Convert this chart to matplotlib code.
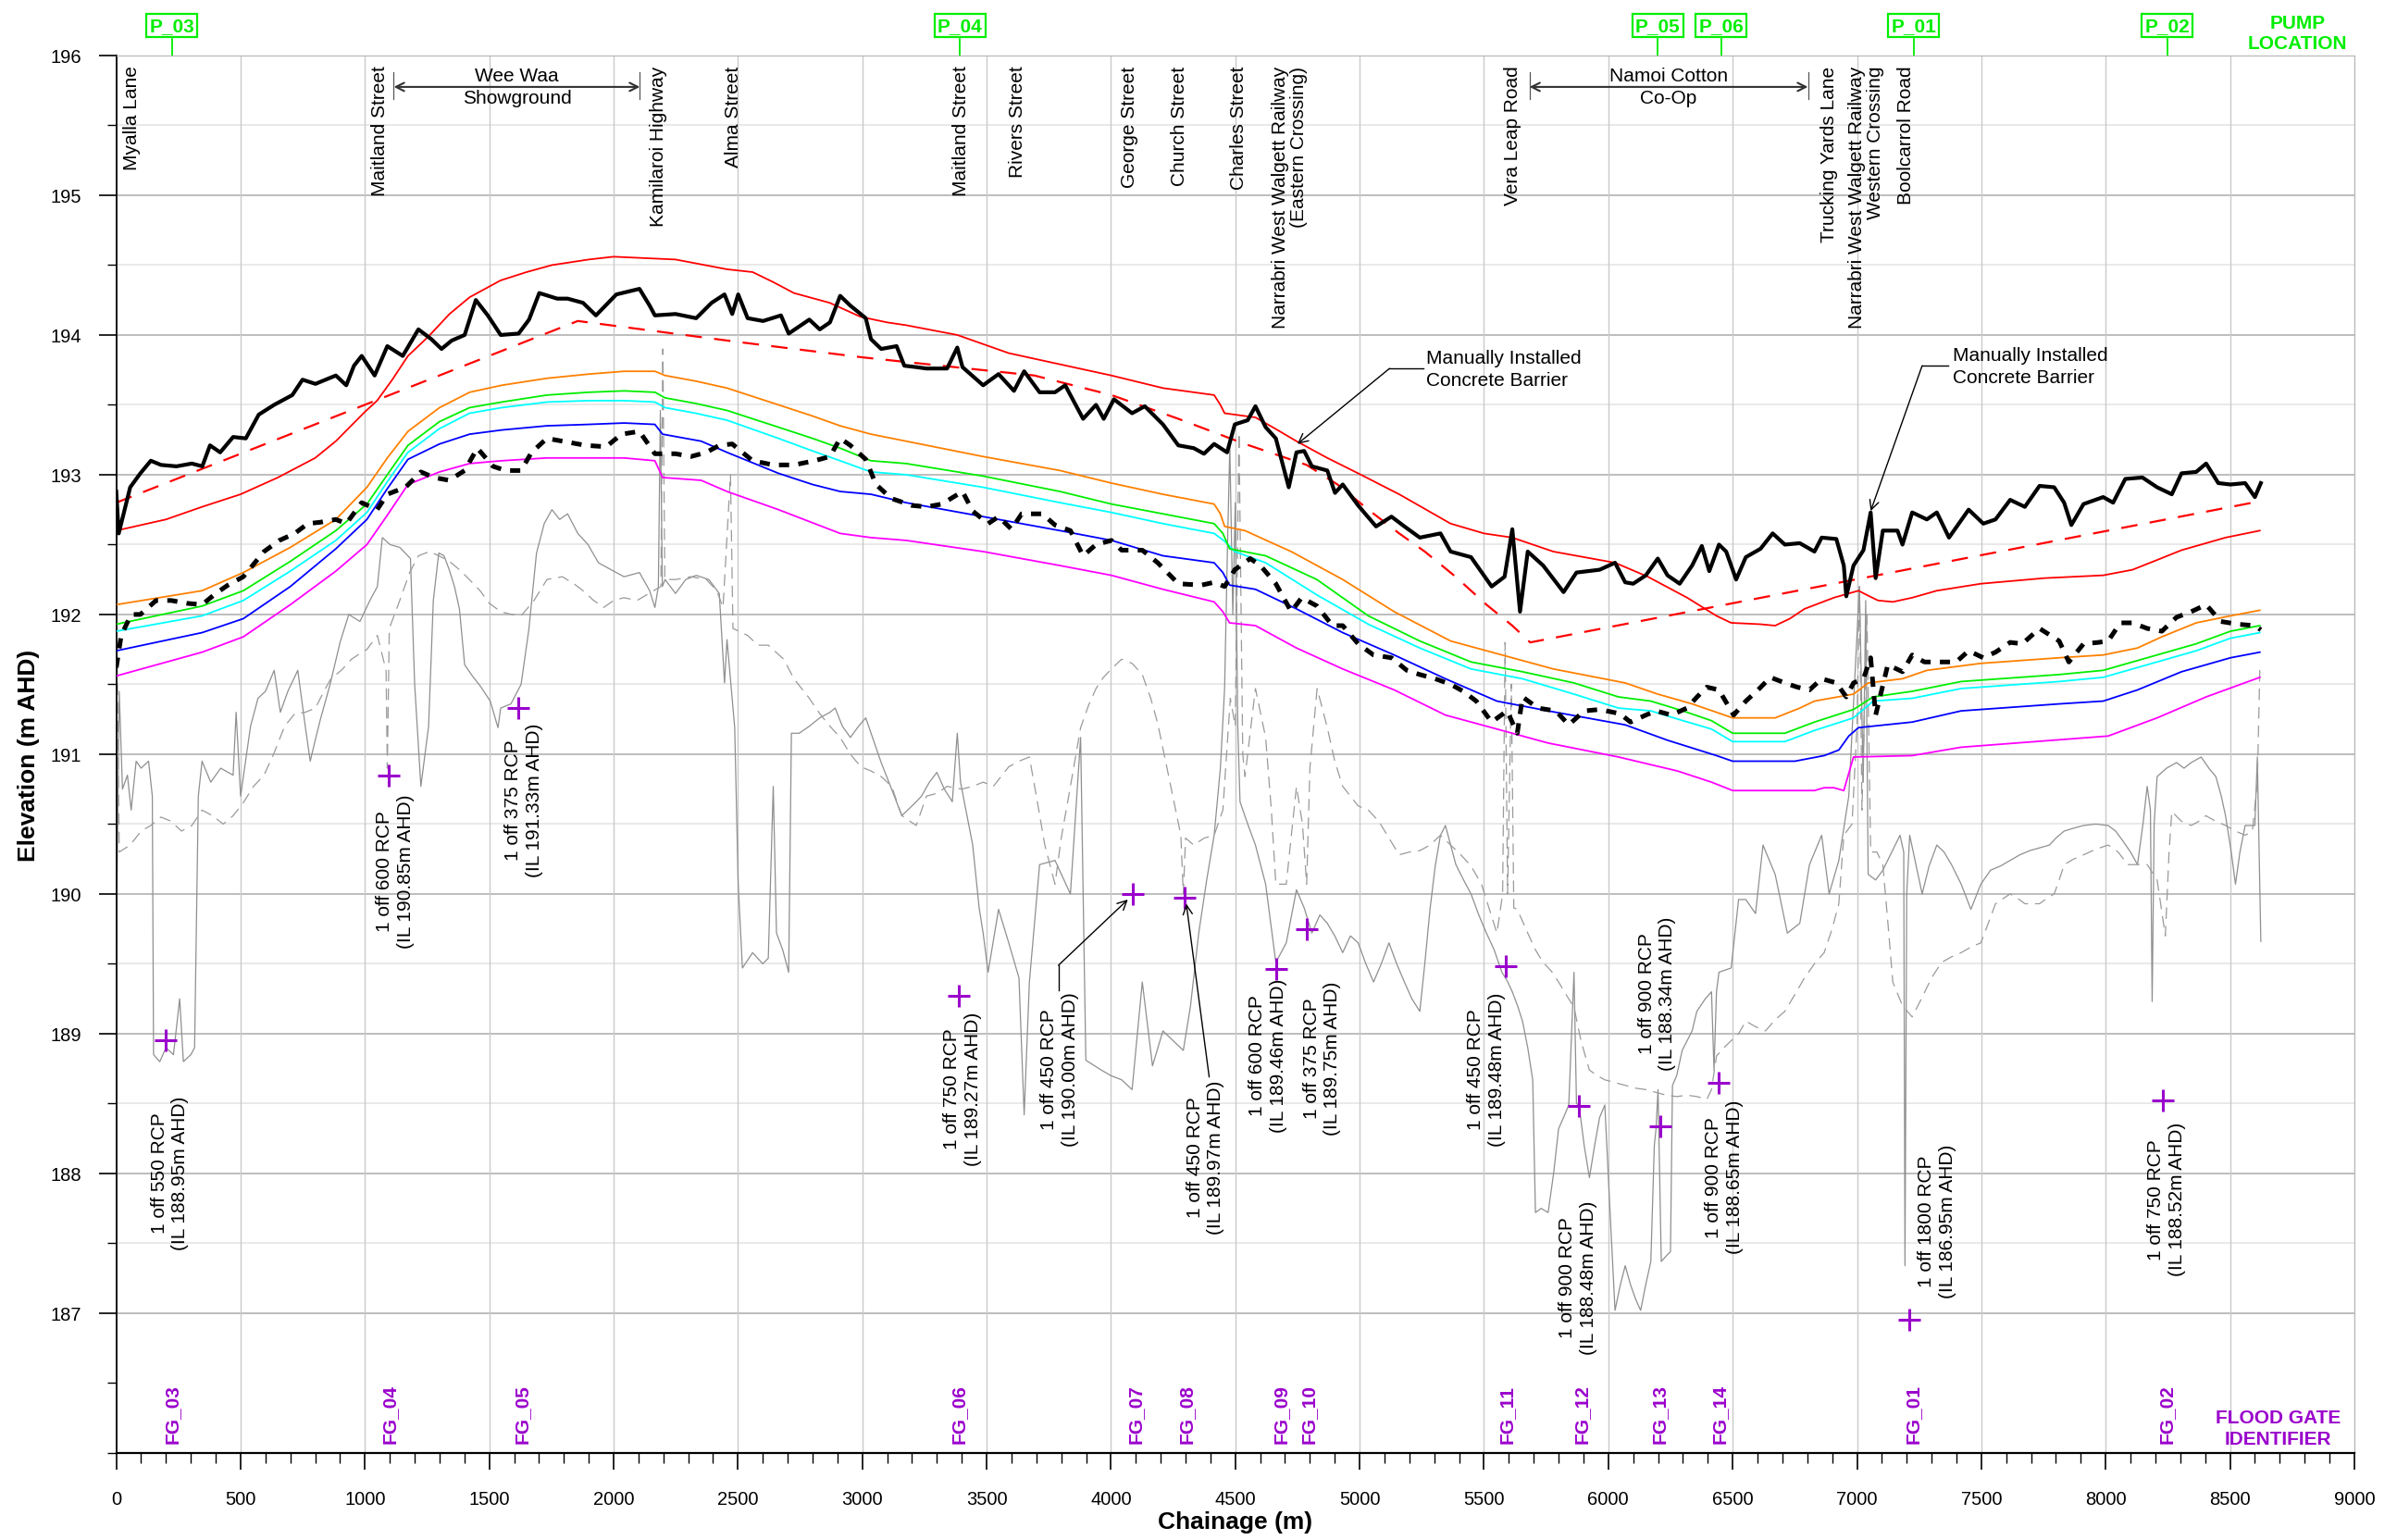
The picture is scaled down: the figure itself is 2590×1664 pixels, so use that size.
import matplotlib
matplotlib.use("Agg")
import matplotlib.pyplot as plt
from matplotlib.ticker import MultipleLocator

plt.rcParams['font.family'] = ['Liberation Sans', 'DejaVu Sans']

# ---------------------------------------------------------------------------
# Long section data (chainage m, elevation m AHD)
# ---------------------------------------------------------------------------
CREST = [(0, 192.88), (10, 192.58), (56, 192.91), (97, 193.01), (139, 193.10), (180, 193.07),
         (242, 193.06), (304, 193.08), (346, 193.06), (377, 193.21), (418, 193.16), (470, 193.27),
         (521, 193.26), (573, 193.43), (635, 193.50), (708, 193.57), (749, 193.68), (801, 193.65),
         (883, 193.71), (925, 193.64), (956, 193.78), (987, 193.85), (1039, 193.71), (1090, 193.92),
         (1152, 193.85), (1215, 194.04), (1267, 193.97), (1308, 193.90), (1349, 193.96), (1401, 194.00),
         (1446, 194.25), (1494, 194.14), (1546, 194.00), (1618, 194.01), (1660, 194.11), (1701, 194.30),
         (1773, 194.26), (1815, 194.26), (1877, 194.23), (1929, 194.14), (2011, 194.29), (2104, 194.33),
         (2145, 194.21), (2166, 194.14), (2249, 194.15), (2332, 194.12), (2394, 194.23), (2446, 194.29),
         (2477, 194.15), (2501, 194.29), (2539, 194.12), (2601, 194.10), (2673, 194.14), (2704, 194.01),
         (2787, 194.11), (2829, 194.04), (2870, 194.09), (2911, 194.28), (2952, 194.21), (3014, 194.12),
         (3035, 193.97), (3076, 193.90), (3138, 193.92), (3169, 193.78), (3217, 193.77), (3258, 193.76),
         (3341, 193.76), (3382, 193.91), (3403, 193.77), (3486, 193.64), (3548, 193.72), (3610, 193.60),
         (3651, 193.74), (3713, 193.59), (3775, 193.59), (3816, 193.64), (3888, 193.40), (3940, 193.50),
         (3971, 193.40), (4012, 193.54), (4085, 193.44), (4136, 193.49), (4209, 193.36), (4271, 193.21),
         (4333, 193.19), (4374, 193.15), (4415, 193.22), (4467, 193.16), (4498, 193.36), (4550, 193.39),
         (4581, 193.49), (4622, 193.34), (4663, 193.26), (4715, 192.91), (4746, 193.16), (4777, 193.17),
         (4808, 193.06), (4870, 193.03), (4901, 192.87), (4932, 192.93), (4994, 192.78), (5066, 192.63),
         (5128, 192.70), (5180, 192.63), (5242, 192.55), (5325, 192.58), (5366, 192.45), (5448, 192.41),
         (5531, 192.20), (5583, 192.27), (5614, 192.61), (5645, 192.02), (5676, 192.45), (5738, 192.35),
         (5820, 192.16), (5872, 192.30), (5965, 192.32), (6027, 192.37), (6068, 192.23), (6100, 192.22),
         (6151, 192.28), (6199, 192.40), (6238, 192.28), (6287, 192.22), (6337, 192.35), (6376, 192.49),
         (6406, 192.31), (6445, 192.50), (6474, 192.45), (6514, 192.25), (6553, 192.41), (6612, 192.47),
         (6661, 192.58), (6710, 192.50), (6770, 192.51), (6829, 192.45), (6858, 192.55), (6917, 192.54),
         (6947, 192.35), (6957, 192.13), (6986, 192.35), (7026, 192.46), (7055, 192.73), (7075, 192.26),
         (7104, 192.60), (7163, 192.60), (7183, 192.50), (7222, 192.73), (7281, 192.68), (7321, 192.73),
         (7370, 192.55), (7449, 192.75), (7508, 192.65), (7557, 192.68), (7616, 192.82), (7675, 192.77),
         (7734, 192.92), (7793, 192.91), (7833, 192.80), (7862, 192.64), (7911, 192.79), (7990, 192.84),
         (8030, 192.80), (8079, 192.97), (8148, 192.98), (8207, 192.91), (8266, 192.86), (8305, 193.01),
         (8364, 193.02), (8404, 193.08), (8453, 192.94), (8502, 192.93), (8561, 192.94), (8600, 192.84),
         (8624, 192.94)]

DESIGN = [(0, 192.80), (1856, 194.10), (2500, 193.95), (3000, 193.84), (3424, 193.76), (3692, 193.71),
          (4002, 193.57), (4271, 193.40), (4539, 193.22), (4787, 193.07), (4911, 192.93), (5035, 192.75),
          (5159, 192.58), (5262, 192.45), (5386, 192.27), (5510, 192.07), (5614, 191.92), (5686, 191.80),
          (8620, 192.81)]

RED = [(0, 192.60), (200, 192.68), (345, 192.77), (500, 192.86), (650, 192.98), (800, 193.12),
       (883, 193.24), (1000, 193.45), (1049, 193.53), (1110, 193.68), (1173, 193.85), (1256, 193.99),
       (1340, 194.15), (1421, 194.27), (1545, 194.39), (1650, 194.45), (1752, 194.50), (1900, 194.54),
       (2000, 194.56), (2249, 194.54), (2456, 194.47), (2559, 194.45), (2640, 194.38), (2725, 194.30),
       (2869, 194.23), (2993, 194.13), (3100, 194.09), (3176, 194.07), (3382, 194.00), (3589, 193.87),
       (3795, 193.79), (4002, 193.71), (4209, 193.62), (4415, 193.57), (4440, 193.50), (4457, 193.44),
       (4498, 193.43), (4581, 193.41), (4660, 193.33), (4746, 193.24), (4870, 193.12), (4994, 193.01),
       (5159, 192.86), (5366, 192.65), (5500, 192.58), (5614, 192.55), (5779, 192.45), (6027, 192.37),
       (6159, 192.27), (6317, 192.12), (6435, 191.99), (6494, 191.94), (6612, 191.93), (6671, 191.92),
       (6730, 191.97), (6789, 192.04), (6907, 192.12), (7006, 192.17), (7050, 192.13), (7085, 192.10),
       (7144, 192.09), (7222, 192.12), (7321, 192.17), (7498, 192.22), (7754, 192.26), (7990, 192.28),
       (8108, 192.32), (8207, 192.39), (8305, 192.46), (8482, 192.55), (8620, 192.60)]

ORANGE = [(0, 192.07), (345, 192.17), (511, 192.30), (700, 192.48), (883, 192.68), (1008, 192.91),
          (1090, 193.12), (1173, 193.31), (1300, 193.48), (1421, 193.59), (1550, 193.64), (1732, 193.69),
          (1900, 193.72), (2042, 193.74), (2166, 193.74), (2207, 193.71), (2330, 193.67), (2456, 193.62),
          (2663, 193.50), (2800, 193.42), (2911, 193.35), (3035, 193.29), (3176, 193.24), (3486, 193.13),
          (3795, 193.03), (4002, 192.94), (4209, 192.86), (4415, 192.79), (4440, 192.72), (4457, 192.63),
          (4539, 192.60), (4625, 192.53), (4725, 192.45), (4932, 192.25), (5139, 192.02), (5366, 191.81),
          (5614, 191.69), (5779, 191.61), (6068, 191.51), (6199, 191.43), (6337, 191.36), (6500, 191.26),
          (6671, 191.26), (6770, 191.33), (6829, 191.38), (6986, 191.43), (7045, 191.51), (7183, 191.54),
          (7281, 191.60), (7498, 191.65), (7813, 191.69), (7990, 191.71), (8128, 191.76), (8226, 191.84),
          (8364, 191.94), (8502, 191.99), (8620, 192.03)]

GREEN = [(0, 191.93), (345, 192.06), (511, 192.17), (700, 192.38), (883, 192.60), (1008, 192.79),
         (1090, 193.00), (1173, 193.21), (1300, 193.38), (1421, 193.48), (1550, 193.52), (1732, 193.57),
         (1900, 193.59), (2042, 193.60), (2166, 193.59), (2207, 193.55), (2330, 193.51), (2456, 193.46),
         (2663, 193.34), (2800, 193.26), (2911, 193.19), (3035, 193.10), (3176, 193.08), (3486, 192.99),
         (3795, 192.88), (4002, 192.79), (4209, 192.72), (4415, 192.65), (4450, 192.58), (4477, 192.47),
         (4622, 192.42), (4828, 192.25), (5035, 191.99), (5242, 191.81), (5448, 191.66), (5655, 191.59),
         (5862, 191.51), (6041, 191.41), (6171, 191.38), (6300, 191.31), (6415, 191.24), (6500, 191.15),
         (6710, 191.15), (6829, 191.23), (6986, 191.32), (7065, 191.41), (7222, 191.45), (7419, 191.52),
         (7813, 191.57), (7990, 191.60), (8167, 191.69), (8364, 191.79), (8502, 191.88), (8620, 191.92)]

CYAN = [(0, 191.88), (345, 191.99), (511, 192.10), (700, 192.31), (883, 192.53), (1008, 192.73),
        (1090, 192.95), (1173, 193.16), (1300, 193.33), (1421, 193.44), (1550, 193.48), (1732, 193.52),
        (1900, 193.53), (2042, 193.53), (2166, 193.52), (2207, 193.48), (2330, 193.44), (2456, 193.39),
        (2663, 193.26), (2800, 193.17), (2911, 193.10), (3035, 193.02), (3176, 193.00), (3486, 192.91),
        (3795, 192.80), (4002, 192.73), (4209, 192.65), (4415, 192.58), (4460, 192.52), (4498, 192.45),
        (4622, 192.37), (4828, 192.14), (5035, 191.93), (5242, 191.76), (5448, 191.61), (5655, 191.54),
        (5862, 191.43), (6041, 191.33), (6171, 191.31), (6300, 191.24), (6415, 191.18), (6500, 191.09),
        (6710, 191.09), (6829, 191.17), (6986, 191.26), (7065, 191.38), (7222, 191.40), (7419, 191.47),
        (7813, 191.52), (7990, 191.55), (8167, 191.64), (8364, 191.74), (8502, 191.83), (8620, 191.87)]

BLUE = [(0, 191.74), (345, 191.87), (511, 191.97), (700, 192.20), (883, 192.47), (1008, 192.68),
        (1090, 192.90), (1173, 193.11), (1300, 193.22), (1421, 193.29), (1550, 193.32), (1732, 193.35),
        (1900, 193.36), (2042, 193.37), (2166, 193.36), (2197, 193.29), (2352, 193.24), (2456, 193.16),
        (2663, 193.01), (2800, 192.93), (2911, 192.88), (3035, 192.86), (3176, 192.80), (3486, 192.70),
        (3795, 192.60), (4002, 192.53), (4209, 192.42), (4415, 192.37), (4450, 192.30), (4477, 192.21),
        (4581, 192.18), (4746, 192.04), (4932, 191.87), (5139, 191.71), (5345, 191.54), (5552, 191.38),
        (5758, 191.31), (6068, 191.21), (6238, 191.10), (6435, 190.99), (6500, 190.95), (6750, 190.95),
        (6868, 190.99), (6927, 191.03), (6967, 191.13), (7006, 191.19), (7222, 191.23), (7419, 191.31),
        (7813, 191.36), (7990, 191.38), (8128, 191.46), (8305, 191.59), (8502, 191.69), (8620, 191.73)]

MAGENTA = [(0, 191.56), (345, 191.73), (511, 191.84), (700, 192.07), (883, 192.31), (1008, 192.50),
           (1090, 192.71), (1173, 192.93), (1300, 193.02), (1421, 193.08), (1550, 193.10), (1732, 193.12),
           (2042, 193.12), (2166, 193.10), (2197, 192.98), (2352, 192.96), (2456, 192.88), (2663, 192.75),
           (2911, 192.58), (3035, 192.55), (3176, 192.53), (3486, 192.45), (3795, 192.35), (4002, 192.28),
           (4209, 192.18), (4415, 192.09), (4450, 192.02), (4477, 191.94), (4581, 191.92), (4746, 191.76),
           (4932, 191.61), (5139, 191.46), (5345, 191.28), (5552, 191.18), (5758, 191.08), (6041, 190.98),
           (6278, 190.88), (6415, 190.80), (6500, 190.74), (6829, 190.74), (6868, 190.76), (6907, 190.76),
           (6947, 190.74), (6986, 190.98), (7222, 190.99), (7419, 191.05), (8010, 191.13), (8207, 191.26),
           (8404, 191.41), (8620, 191.55)]

WATER = [(0, 191.62), (20, 191.85), (60, 192.00), (97, 192.00), (160, 192.10), (221, 192.10), (283, 192.08),
         (345, 192.07), (400, 192.15), (449, 192.21), (511, 192.27), (594, 192.45), (656, 192.53),
         (718, 192.58), (770, 192.65), (821, 192.66), (883, 192.68), (925, 192.65), (987, 192.80),
         (1049, 192.75), (1090, 192.86), (1163, 192.91), (1225, 193.02), (1277, 192.98), (1339, 192.96),
         (1401, 193.03), (1452, 193.19), (1515, 193.06), (1566, 193.03), (1628, 193.03), (1670, 193.16),
         (1732, 193.26), (1794, 193.24), (1887, 193.21), (1970, 193.20), (2032, 193.29), (2104, 193.31),
         (2166, 193.15), (2249, 193.15), (2311, 193.13), (2373, 193.16), (2425, 193.21), (2477, 193.22),
         (2559, 193.10), (2642, 193.07), (2725, 193.07), (2808, 193.10), (2870, 193.13), (2911, 193.26),
         (2952, 193.21), (3014, 193.11), (3055, 192.93), (3117, 192.83), (3200, 192.78), (3258, 192.77),
         (3320, 192.79), (3403, 192.88), (3444, 192.74), (3506, 192.65), (3548, 192.70), (3600, 192.61),
         (3641, 192.72), (3724, 192.72), (3775, 192.64), (3837, 192.60), (3888, 192.42), (3940, 192.50),
         (4002, 192.53), (4043, 192.46), (4126, 192.46), (4188, 192.37), (4271, 192.22), (4364, 192.21),
         (4415, 192.23), (4457, 192.20), (4498, 192.32), (4560, 192.40), (4601, 192.35), (4663, 192.22),
         (4725, 192.02), (4767, 192.12), (4829, 192.06), (4891, 191.92), (4932, 191.92), (4994, 191.79),
         (5056, 191.71), (5128, 191.69), (5190, 191.60), (5242, 191.57), (5304, 191.54), (5366, 191.50),
         (5417, 191.45), (5469, 191.38), (5531, 191.23), (5593, 191.31), (5634, 191.15), (5655, 191.41),
         (5717, 191.33), (5789, 191.31), (5841, 191.21), (5903, 191.31), (5965, 191.32), (6047, 191.29),
         (6089, 191.23), (6151, 191.28), (6192, 191.31), (6254, 191.28), (6316, 191.33), (6357, 191.41),
         (6396, 191.48), (6445, 191.46), (6504, 191.28), (6553, 191.38), (6602, 191.46), (6652, 191.55),
         (6710, 191.51), (6760, 191.48), (6809, 191.46), (6858, 191.54), (6917, 191.51), (6957, 191.41),
         (6986, 191.51), (7026, 191.54), (7055, 191.69), (7075, 191.28), (7124, 191.64), (7183, 191.59),
         (7222, 191.71), (7271, 191.66), (7340, 191.66), (7399, 191.66), (7449, 191.74), (7508, 191.69),
         (7557, 191.73), (7616, 191.80), (7665, 191.79), (7734, 191.90), (7813, 191.81), (7852, 191.66),
         (7911, 191.79), (7971, 191.80), (8010, 191.81), (8059, 191.94), (8108, 191.94), (8167, 191.90),
         (8226, 191.88), (8285, 191.98), (8344, 192.02), (8404, 192.07), (8463, 191.95), (8532, 191.93),
         (8600, 191.92), (8624, 191.89)]

GROUND_A = [(0, 189.60), (12, 191.45), (25, 190.75), (45, 190.85), (60, 190.60), (80, 190.95), (100, 190.90),
            (130, 190.95), (145, 190.70), (150, 188.85), (175, 188.80), (200, 188.90), (230, 188.85),
            (255, 189.25), (270, 188.80), (300, 188.85), (315, 188.90), (330, 190.70), (345, 190.95),
            (380, 190.80), (420, 190.90), (470, 190.85), (482, 191.30), (500, 190.70), (540, 191.20),
            (570, 191.40), (600, 191.45), (635, 191.60), (660, 191.30), (690, 191.45), (730, 191.60),
            (760, 191.20), (780, 190.95), (800, 191.10), (821, 191.25), (860, 191.50), (900, 191.80),
            (935, 192.00), (980, 191.95), (1020, 192.10), (1050, 192.20), (1070, 192.55), (1101, 192.50),
            (1140, 192.48), (1183, 192.40), (1200, 191.50), (1225, 190.77), (1256, 191.20), (1275, 192.10),
            (1297, 192.44), (1318, 192.42), (1339, 192.32), (1360, 192.20), (1380, 192.04), (1401, 191.64),
            (1432, 191.56), (1463, 191.49), (1504, 191.38), (1535, 191.19), (1546, 191.33), (1587, 191.36),
            (1628, 191.50), (1659, 191.89), (1690, 192.44), (1721, 192.65), (1752, 192.75), (1783, 192.68),
            (1815, 192.72), (1856, 192.58), (1897, 192.50), (1939, 192.37), (1990, 192.32), (2042, 192.27),
            (2104, 192.30), (2145, 192.17), (2166, 192.05), (2180, 192.20), (2188, 193.46), (2196, 192.20),
            (2207, 192.25), (2249, 192.15), (2290, 192.25), (2332, 192.28), (2383, 192.25), (2425, 192.15),
            (2446, 191.51), (2456, 191.82), (2487, 191.19), (2501, 190.07), (2518, 189.47), (2559, 189.58),
            (2600, 189.50), (2622, 189.54), (2642, 190.77), (2655, 189.72), (2680, 189.60), (2704, 189.44),
            (2715, 191.15), (2746, 191.15), (2787, 191.20), (2829, 191.26), (2870, 191.30), (2891, 191.33),
            (2920, 191.20), (2952, 191.12), (2985, 191.20), (3014, 191.26), (3045, 191.10), (3076, 190.94),
            (3118, 190.75), (3159, 190.56), (3217, 190.66), (3238, 190.70), (3270, 190.80), (3300, 190.87),
            (3330, 190.75), (3362, 190.66), (3382, 191.15), (3395, 190.80), (3444, 190.35), (3470, 189.90),
            (3486, 189.72), (3506, 189.44), (3548, 189.89), (3589, 189.65), (3630, 189.40), (3651, 188.42),
            (3672, 189.37), (3713, 190.21), (3775, 190.24), (3837, 190.00), (3878, 191.12), (3899, 188.81),
            (3961, 188.74), (4000, 188.70), (4043, 188.67), (4085, 188.60), (4126, 189.37), (4167, 188.77),
            (4209, 189.02), (4250, 188.95), (4291, 188.88), (4320, 189.20), (4353, 189.72), (4385, 190.10),
            (4415, 190.42), (4440, 190.90), (4457, 191.47), (4470, 192.60), (4478, 193.20), (4490, 192.00),
            (4500, 192.80), (4510, 191.20), (4519, 190.66), (4550, 190.50), (4581, 190.35), (4622, 190.07),
            (4663, 189.51), (4705, 189.65), (4746, 190.03), (4777, 189.90), (4808, 189.72), (4840, 189.85),
            (4870, 189.79), (4900, 189.70), (4932, 189.58), (4963, 189.70), (4994, 189.65), (5025, 189.50),
            (5056, 189.37), (5087, 189.50), (5118, 189.65), (5149, 189.50), (5180, 189.37), (5210, 189.25),
            (5242, 189.16), (5262, 189.50), (5283, 189.89), (5304, 190.20), (5325, 190.42), (5345, 190.49),
            (5366, 190.35), (5387, 190.21), (5418, 190.10), (5448, 190.00), (5479, 189.85), (5510, 189.72),
            (5541, 189.60), (5572, 189.44), (5593, 189.38), (5614, 189.30), (5635, 189.20), (5655, 189.09),
            (5676, 188.90), (5696, 188.67), (5707, 187.72), (5730, 187.75), (5758, 187.72), (5780, 188.00),
            (5800, 188.32), (5820, 188.40), (5841, 188.49), (5862, 189.44), (5872, 188.50), (5882, 188.49),
            (5903, 188.20), (5924, 187.97), (5945, 188.20), (5965, 188.40), (5986, 188.49), (6005, 187.80),
            (6027, 187.02), (6048, 187.20), (6068, 187.34), (6090, 187.20), (6110, 187.10), (6130, 187.02),
            (6150, 187.20), (6171, 187.37), (6185, 188.20), (6192, 188.32), (6200, 188.60), (6213, 187.37),
            (6233, 187.41), (6250, 187.44), (6258, 188.63), (6275, 188.70), (6297, 188.88), (6337, 189.02),
            (6356, 189.16), (6390, 189.25), (6415, 189.30), (6425, 188.74), (6435, 189.30), (6445, 189.44),
            (6494, 189.47), (6524, 189.96), (6553, 189.96), (6592, 189.86), (6622, 190.35), (6671, 190.14),
            (6720, 189.72), (6770, 189.79), (6809, 190.21), (6858, 190.42), (6888, 190.00), (6927, 190.24),
            (6967, 190.70), (6990, 191.50), (7010, 192.20), (7025, 190.80), (7035, 192.10), (7045, 190.14),
            (7075, 190.10), (7104, 190.17), (7140, 190.30), (7173, 190.42), (7188, 190.30), (7193, 187.34),
            (7200, 190.00), (7212, 190.42), (7262, 190.00), (7290, 190.20), (7321, 190.35), (7350, 190.30),
            (7380, 190.21), (7419, 190.07), (7458, 189.89), (7498, 190.07), (7537, 190.17), (7577, 190.20),
            (7616, 190.24), (7655, 190.28), (7695, 190.31), (7735, 190.33), (7774, 190.35), (7800, 190.40),
            (7833, 190.45), (7870, 190.47), (7911, 190.49), (7960, 190.50), (8010, 190.49), (8040, 190.45),
            (8069, 190.38), (8100, 190.30), (8128, 190.21), (8150, 190.50), (8167, 190.77), (8180, 190.60),
            (8187, 189.23), (8195, 190.50), (8207, 190.84), (8245, 190.90), (8285, 190.94), (8315, 190.90),
            (8344, 190.94), (8384, 190.98), (8415, 190.90), (8443, 190.84), (8465, 190.70), (8482, 190.56),
            (8505, 190.30), (8522, 190.07), (8540, 190.30), (8561, 190.49), (8600, 190.49), (8610, 190.98),
            (8624, 189.66)]

GROUND_B = [(0, 192.30), (12, 190.30), (56, 190.35), (100, 190.45), (139, 190.49), (180, 190.55),
            (221, 190.52), (262, 190.45), (304, 190.49), (345, 190.60), (387, 190.56), (430, 190.50),
            (470, 190.56), (510, 190.65), (552, 190.77), (594, 190.85), (635, 191.01), (677, 191.20),
            (718, 191.29), (760, 191.30), (801, 191.33), (835, 191.45), (863, 191.54), (905, 191.60),
            (946, 191.68), (980, 191.72), (1008, 191.75), (1050, 191.85), (1085, 191.60), (1090, 190.90),
            (1098, 191.90), (1140, 192.10), (1180, 192.30), (1215, 192.42), (1260, 192.45), (1297, 192.42),
            (1340, 192.38), (1380, 192.32), (1420, 192.25), (1463, 192.17), (1500, 192.08), (1546, 192.02),
            (1590, 192.00), (1628, 191.99), (1680, 192.10), (1732, 192.25), (1794, 192.27), (1840, 192.22),
            (1877, 192.17), (1920, 192.10), (1960, 192.05), (2000, 192.10), (2042, 192.12), (2094, 192.10),
            (2190, 192.20), (2198, 193.90), (2206, 192.25), (2249, 192.25), (2311, 192.27), (2373, 192.25),
            (2415, 192.17), (2440, 192.05), (2470, 193.00), (2480, 191.90), (2539, 191.85), (2580, 191.78),
            (2622, 191.78), (2684, 191.68), (2725, 191.54), (2787, 191.40), (2829, 191.29), (2870, 191.20),
            (2911, 191.12), (2952, 191.00), (2994, 190.91), (3035, 190.88), (3076, 190.84), (3118, 190.77),
            (3159, 190.56), (3217, 190.49), (3258, 190.70), (3300, 190.72), (3341, 190.77), (3400, 190.75),
            (3444, 190.77), (3486, 190.80), (3527, 190.77), (3589, 190.91), (3630, 190.95), (3672, 190.98),
            (3700, 190.70), (3734, 190.35), (3775, 190.07), (3800, 190.40), (3837, 190.77), (3878, 191.19),
            (3910, 191.35), (3940, 191.47), (3970, 191.55), (4002, 191.61), (4043, 191.68), (4085, 191.65),
            (4126, 191.57), (4160, 191.40), (4188, 191.22), (4229, 190.87), (4260, 190.60), (4281, 190.42),
            (4291, 190.00), (4300, 190.40), (4333, 190.35), (4375, 190.40), (4415, 190.42), (4450, 190.60),
            (4480, 191.40), (4500, 191.20), (4515, 193.30), (4530, 191.00), (4539, 190.84), (4581, 191.47),
            (4622, 191.12), (4645, 190.60), (4663, 190.07), (4705, 190.07), (4746, 190.77), (4770, 190.50),
            (4787, 190.07), (4800, 190.90), (4829, 191.47), (4870, 191.19), (4900, 190.95), (4932, 190.77),
            (4994, 190.63), (5035, 190.60), (5077, 190.52), (5118, 190.40), (5159, 190.28), (5200, 190.30),
            (5242, 190.31), (5283, 190.35), (5325, 190.42), (5366, 190.35), (5407, 190.28), (5448, 190.20),
            (5490, 190.07), (5520, 189.90), (5552, 189.72), (5575, 190.00), (5585, 191.80), (5595, 190.00),
            (5610, 191.50), (5620, 189.90), (5634, 189.89), (5676, 189.72), (5707, 189.60), (5738, 189.51),
            (5770, 189.45), (5800, 189.37), (5830, 189.28), (5862, 189.19), (5890, 188.95), (5924, 188.74),
            (5955, 188.70), (5986, 188.67), (6027, 188.65), (6068, 188.63), (6110, 188.61), (6151, 188.60),
            (6192, 188.58), (6233, 188.56), (6275, 188.55), (6316, 188.56), (6357, 188.55), (6396, 188.53),
            (6415, 188.60), (6435, 188.84), (6465, 188.90), (6494, 188.95), (6524, 189.00), (6553, 189.09),
            (6592, 189.05), (6632, 189.02), (6671, 189.10), (6710, 189.16), (6750, 189.28), (6789, 189.40),
            (6829, 189.50), (6868, 189.58), (6900, 189.75), (6927, 189.93), (6947, 190.42), (6980, 190.50),
            (7000, 191.20), (7010, 192.20), (7020, 190.60), (7040, 192.00), (7055, 190.30), (7080, 190.30),
            (7104, 190.21), (7124, 189.80), (7144, 189.37), (7183, 189.20), (7222, 189.12), (7262, 189.26),
            (7300, 189.40), (7340, 189.51), (7380, 189.55), (7419, 189.58), (7458, 189.62), (7498, 189.65),
            (7530, 189.80), (7557, 189.93), (7590, 189.97), (7616, 190.00), (7645, 189.97), (7675, 189.93),
            (7705, 189.93), (7734, 189.93), (7765, 189.97), (7793, 190.00), (7813, 190.10), (7833, 190.21),
            (7872, 190.25), (7911, 190.28), (7960, 190.32), (8010, 190.35), (8050, 190.30), (8089, 190.21),
            (8128, 190.21), (8167, 190.21), (8207, 190.10), (8240, 189.70), (8255, 190.30), (8266, 190.59),
            (8305, 190.52), (8344, 190.49), (8375, 190.52), (8403, 190.56), (8443, 190.52), (8482, 190.49),
            (8522, 190.45), (8561, 190.42), (8590, 190.45), (8610, 190.80), (8620, 191.61)]

# Flood gates: id, chainage of invert marker, pipe size, invert level
FG_IDS = ["FG_03", "FG_04", "FG_05", "FG_06", "FG_07", "FG_08", "FG_09", "FG_10",
          "FG_11", "FG_12", "FG_13", "FG_14", "FG_01", "FG_02"]
FG_CH = [197, 1094, 1617, 3387, 4088, 4297, 4666, 4789, 5588, 5883, 6209, 6442, 7211, 8231]
FG_SIZE = [550, 600, 375, 750, 450, 450, 600, 375, 450, 900, 900, 900, 1800, 750]
FG_IL = [188.95, 190.85, 191.33, 189.27, 190.00, 189.97, 189.46, 189.75, 189.48,
         188.48, 188.34, 188.65, 186.95, 188.52]
FG_LABEL_CH = [227, 1100, 1631, 3390, 4100, 4304, 4683, 4797, 5593, 5892, 6207, 6448, 7225, 8244]
# note text anchor (chainage, level, vertical anchor)
FG_NOTE_CH = [215, 1121, 1639, 3403, 3795, 4380, 4632, 4849, 5510, 5878, 6196, 6465, 7321, 8246]
FG_NOTE_Y = [188.56, 190.72, 191.23, 189.16, 189.30, 188.67, 189.40, 189.38, 189.30,
             187.81, 188.74, 188.53, 187.11, 188.37]
FG_NOTE_VA = ["top"] * 10 + ["bottom", "top", "bottom", "top"]

PUMP_IDS = ["P_03", "P_04", "P_05", "P_06", "P_01", "P_02"]
PUMP_CH = [224, 3393, 6198, 6454, 7228, 8247]

STREETS = ["Myalla Lane", "Maitland Street", "Kamilaroi Highway", "Alma Street",
           "Maitland Street", "Rivers Street", "George Street", "Church Street",
           "Charles Street", "Narrabri West Walgett Railway\n(Eastern Crossing)",
           "Vera Leap Road", "Trucking Yards Lane",
           "Narrabri West Walgett Railway\nWestern Crossing", "Boolcarrol Road"]
STREET_CH = [64, 1060, 2180, 2483, 3396, 3625, 4075, 4276, 4513, 4719, 5614, 6889, 7037, 7198]

GREEN_C = "#00EE00"
PURPLE = "#9A00CC"
GREY = "#8f8f8f"


def split(pairs):
    return [p[0] for p in pairs], [p[1] for p in pairs]


fig = plt.figure(figsize=(25.9, 16.65), dpi=100)
ax = fig.add_axes([0.0485, 0.0565, 0.9337, 0.9069])
ax.set_xlim(0, 9000)
ax.set_ylim(186, 196)

# grid
for y in range(187, 197):
    ax.axhline(y, color="#bdbdbd", lw=1.4, zorder=0)
for k in range(187, 196):
    ax.axhline(k + 0.5, color="#e9e9e9", lw=1.4, zorder=0)
for x in range(500, 9001, 500):
    ax.axvline(x, color="#cacaca", lw=1.0, zorder=0)

# ground profiles
x, y = split(GROUND_A)
ax.plot(x, y, color=GREY, lw=0.9, zorder=2)
x, y = split(GROUND_B)
ax.plot(x, y, color="#9a9a9a", lw=0.9, dashes=(10, 6), zorder=2)

# flood levels
for pairs, col in [(MAGENTA, "#FF00FF"), (BLUE, "#0000FF"), (CYAN, "#00FFFF"),
                   (GREEN, GREEN_C), (ORANGE, "#FF8000"), (RED, "#FF0000")]:
    x, y = split(pairs)
    ax.plot(x, y, color=col, lw=1.3, zorder=3)

x, y = split(DESIGN)
ax.plot(x, y, color="#FF0000", lw=1.6, dashes=(8, 6), zorder=3)
x, y = split(WATER)
ax.plot(x, y, color="black", lw=3.6, dashes=(2.2, 2.0), zorder=4)
x, y = split(CREST)
ax.plot(x, y, color="black", lw=3.0, zorder=4)

# flood gate inverts
ax.plot(FG_CH, FG_IL, "+", color=PURPLE, ms=17, mew=2.2, zorder=6, clip_on=False)
for ch, lab in zip(FG_LABEL_CH, FG_IDS):
    ax.text(ch, 186.07, lab, rotation=90, ha="center", va="bottom", color=PURPLE,
            fontsize=15, fontweight="bold", zorder=7)
for ch, yy, va, size, il in zip(FG_NOTE_CH, FG_NOTE_Y, FG_NOTE_VA, FG_SIZE, FG_IL):
    ax.text(ch, yy, f"1 off {size} RCP\n(IL {il:.2f}m AHD)", rotation=90, ha="center",
            va=va, fontsize=15, linespacing=1.25, multialignment="center", zorder=7)
ax.text(8694, 186.18, "FLOOD GATE\nIDENTIFIER", ha="center", va="center", color=PURPLE,
        fontsize=15, fontweight="bold", linespacing=1.25, zorder=7)

# leaders for the two notes set off from their gates
arrow_kw = dict(arrowstyle="->", color="black", lw=1.0, shrinkA=0, shrinkB=0,
                mutation_scale=18)
ax.plot([3789, 3789], [189.31, 189.49], color="black", lw=1.0, zorder=6)
ax.annotate("", xy=(4068, 189.96), xytext=(3789, 189.49), arrowprops=arrow_kw, zorder=6)
ax.annotate("", xy=(4303, 189.93), xytext=(4395, 188.69), arrowprops=arrow_kw, zorder=6)

# concrete barrier callouts
for tip, elbow, end, tx in [((4750, 193.22), (5120, 193.76), (5255, 193.76), 5268),
                            ((7055, 192.74), (7262, 193.78), (7368, 193.78), 7385)]:
    ax.plot([elbow[0], end[0]], [elbow[1], end[1]], color="black", lw=1.0, zorder=6)
    ax.annotate("", xy=tip, xytext=elbow, arrowprops=arrow_kw, zorder=6)
    ax.text(tx, elbow[1], "Manually Installed\nConcrete Barrier", ha="left", va="center",
            fontsize=15, linespacing=1.35, zorder=7)

# street / feature names
for ch, name in zip(STREET_CH, STREETS):
    ax.text(ch, 195.93, name, rotation=90, ha="center", va="top", fontsize=15,
            multialignment="right", linespacing=1.1, zorder=7)

# extents of Wee Waa Showground and Namoi Cotton Co-Op
for x0, x1, top, bot in [(1116, 2106, "Wee Waa", "Showground"),
                         (5683, 6803, "Namoi Cotton", "Co-Op")]:
    ax.annotate("", xy=(x0, 195.775), xytext=(x1, 195.775),
                arrowprops=dict(arrowstyle="<->", color="#333333", lw=1.5,
                                shrinkA=0, shrinkB=0, mutation_scale=16))
    for xe in (x0, x1):
        ax.plot([xe, xe], [195.69, 195.88], color="#555555", lw=0.9)
    xm = (x0 + x1) / 2
    ax.text(xm, 195.86, top, ha="center", va="center", fontsize=15)
    ax.text(xm, 195.695, bot, ha="center", va="center", fontsize=15)

# pump locations above the plot
for ch, name in zip(PUMP_CH, PUMP_IDS):
    ax.plot([ch, ch], [196.0, 196.12], color=GREEN_C, lw=1.3, clip_on=False)
    ax.text(ch, 196.215, name, ha="center", va="center", color=GREEN_C, fontsize=15,
            fontweight="bold", clip_on=False,
            bbox=dict(boxstyle="square,pad=0.15", fc="white", ec=GREEN_C, lw=1.6))
ax.text(8772, 196.16, "PUMP\nLOCATION", ha="center", va="center", color=GREEN_C,
        fontsize=15, fontweight="bold", linespacing=1.2, clip_on=False)

# axes styling
for side in ("top", "right"):
    ax.spines[side].set_color("#b5b5b5")
ax.spines["left"].set_linewidth(1.3)
ax.spines["bottom"].set_linewidth(1.6)
ax.set_xticks(range(0, 9001, 500))
ax.xaxis.set_minor_locator(MultipleLocator(100))
ax.set_yticks(range(187, 197))
ax.yaxis.set_minor_locator(MultipleLocator(0.5))
ax.tick_params(axis="x", which="major", length=13, width=1.2, pad=16, labelsize=14.5)
ax.tick_params(axis="x", which="minor", length=8, width=1.0)
ax.tick_params(axis="y", which="major", length=14, width=1.2, pad=13, labelsize=14.5)
ax.tick_params(axis="y", which="minor", length=7, width=1.0)
ax.set_xlabel("Chainage (m)", fontsize=19, fontweight="bold", labelpad=2)
ax.set_ylabel("Elevation (m AHD)", fontsize=19, fontweight="bold", labelpad=8)

fig.savefig("out.png", dpi=100, facecolor="white")
